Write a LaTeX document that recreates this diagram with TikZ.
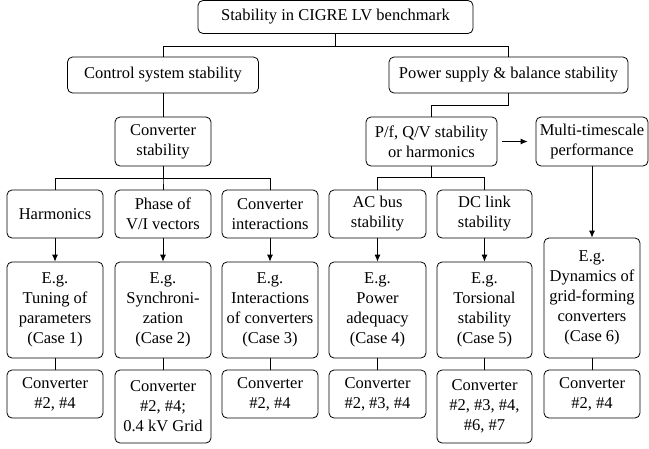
\documentclass[tikz,border=0pt]{standalone}
\usepackage{fontspec}
\setmainfont{Liberation Serif}
\newfontfamily\timesfont{Liberation Serif}
\usetikzlibrary{arrows.meta}
\tikzset{
  blk/.style={draw, rounded corners=5pt, line width=0.8pt, align=center,
    inner sep=1pt, font=\timesfont\fontsize{16.5}{20}\selectfont},
  cell/.style={blk, minimum width=96pt, minimum height=48pt},
  link/.style={line width=0.8pt},
  arr/.style={link, -{Latex[length=7pt,width=6pt]}}
}

\begin{document}
\begin{tikzpicture}[x=1pt, y=-1pt]
  \useasboundingbox (0,0) rectangle (649,448);
  % top levels
  \node[blk, minimum width=275pt, minimum height=33pt] (top) at (335.5,17) {Stability in CIGRE LV benchmark};
  \node[blk, minimum width=191pt, minimum height=36pt] (ctrl) at (163,75) {Control system stability};
  \node[blk, minimum width=239pt, minimum height=36pt] (power) at (508.5,75) {Power supply \& balance stability};
  \node[cell, minimum height=49pt] (convstab) at (163,141.5) {Converter\\stability};
  \node[blk, minimum width=131pt, minimum height=49pt] (pfqv) at (431.5,141.5) {P/f, Q/V stability\\or harmonics};
  \node[blk, minimum width=112pt, minimum height=49pt] (multi) at (592,141.5) {Multi-timescale\\performance};
  % mechanisms
  \node[cell] (harm) at (55,214) {Harmonics};
  \node[cell] (phase) at (163,214) {Phase of\\V/I vectors};
  \node[cell] (inter) at (270,214) {Converter\\interactions};
  \node[cell, minimum width=97pt] (acbus) at (377.5,214) {AC bus\\stability};
  \node[cell, minimum width=95pt] (dclink) at (484.5,214) {DC link\\stability};
  % examples
  \node[cell, minimum height=96pt] (eg1) at (55,310) {E.g.\\Tuning of\\parameters\\(Case 1)};
  \node[cell, minimum height=96pt] (eg2) at (163,310) {E.g.\\Synchroni-\\zation\\(Case 2)};
  \node[cell, minimum height=96pt] (eg3) at (270,310) {E.g.\\Interactions\\of converters\\(Case 3)};
  \node[cell, minimum width=97pt, minimum height=96pt] (eg4) at (377.5,310) {E.g.\\Power\\adequacy\\(Case 4)};
  \node[cell, minimum width=95pt, minimum height=96pt] (eg5) at (484.5,310) {E.g.\\Torsional\\stability\\(Case 5)};
  \node[cell, minimum height=120pt] (eg6) at (592,298) {E.g.\\Dynamics of\\grid-forming\\converters\\(Case 6)};
  % converters
  \node[cell] (cv1) at (55,394) {Converter\\\#2, \#4};
  \node[cell, minimum height=73pt] (cv2) at (163,406.5) {Converter\\\#2, \#4;\\0.4 kV Grid};
  \node[cell] (cv3) at (270,394) {Converter\\\#2, \#4};
  \node[cell, minimum width=97pt] (cv4) at (377.5,394) {Converter\\\#2, \#3, \#4};
  \node[cell, minimum width=95pt, minimum height=73pt] (cv5) at (484.5,406.5) {Converter\\\#2, \#3, \#4,\\\#6, \#7};
  \node[cell] (cv6) at (592,394) {Converter\\\#2, \#4};

  % tree lines
  \draw[link] (top.south) -- ++(0,12) -| (ctrl.north);
  \draw[link] (top.south) -- ++(0,12) -| (power.north);
  \draw[link] (ctrl.south) -- (convstab.north);
  \draw[link] (power.south) -- ++(0,12) -| (pfqv.north);
  \foreach \n in {harm,phase,inter}
    \draw[link] (convstab.south) -- ++(0,12) -| (\n.north);
  \foreach \n in {acbus,dclink}
    \draw[link] (pfqv.south) -- ++(0,11) -| (\n.north);
  \draw[arr] ([xshift=5pt]pfqv.east) -- ([xshift=-8pt]multi.west);
  % arrows to examples
  \draw[arr] (harm) -- (eg1);
  \draw[arr] (phase) -- (eg2);
  \draw[arr] (inter) -- (eg3);
  \draw[arr] (acbus) -- (eg4);
  \draw[arr] (dclink) -- (eg5);
  \draw[arr] (multi) -- (eg6);
  \foreach \i in {1,...,6}
    \draw[link] (eg\i.south) -- (cv\i.north);
\end{tikzpicture}
\end{document}
